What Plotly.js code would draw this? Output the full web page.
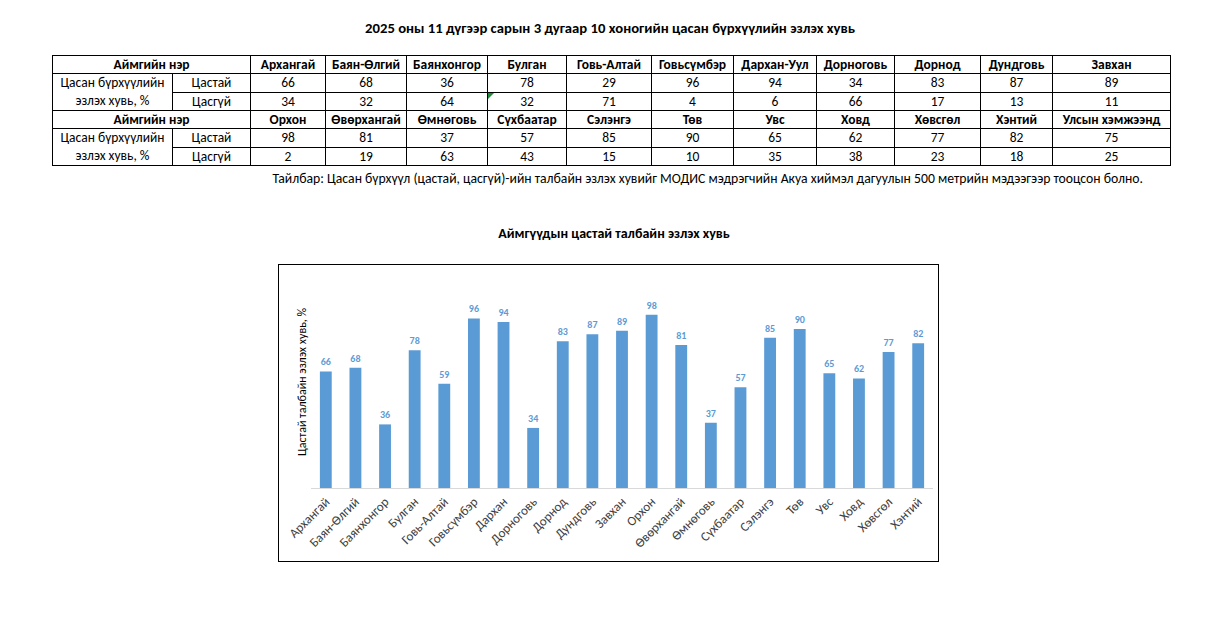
<!DOCTYPE html>
<html>
<head>
<meta charset="utf-8">
<script src="https://cdn.plot.ly/plotly-3.0.1.min.js"></script>
<style>
  html, body { margin:0; padding:0; background:#fff; width:1223px; height:633px; overflow:hidden; }
  body { position:relative; font-family: Carlito, "Liberation Sans Narrow", Roboto, "Noto Sans", sans-serif; color:#000; }
  #mainTitle { position:absolute; left:0; top:19px; width:1220px; text-align:center; font-weight:bold; font-size:14.7px; line-height:18px; }
  #tbl { position:absolute; left:52px; top:55px; border-collapse:collapse; table-layout:fixed; font-size:13.5px; }
  #tbl td { border:1px solid #000; height:17px; padding:0; text-align:center; line-height:17px; white-space:nowrap; overflow:hidden; position:relative; }
  #tbl td.hdr { font-weight:bold; }
  #tbl td.lbl { line-height:18px; }
  #note { position:absolute; right:80px; top:170px; font-size:13.7px; white-space:nowrap; }
  #chartBox { position:absolute; left:278px; top:264px; width:659px; height:296px; border:1px solid #000; pointer-events:none; }
  #chart { position:absolute; left:278px; top:215px; width:661px; height:347px; }
  .tri { position:absolute; left:0; top:0; width:0; height:0; border-top:6px solid #1e8c3a; border-right:6px solid transparent; }
</style>
</head>
<body>
<div id="mainTitle"></div>
<table id="tbl"></table>
<div id="note"></div>
<div id="chart"></div>
<div id="chartBox"></div>
<script>
// ---------- data ----------
const mainTitle = "2025 оны 11 дүгээр сарын 3 дугаар 10 хоногийн цасан бүрхүүлийн эзлэх хувь";
const headerLabel = "Аймгийн нэр";
const rowLabelTop = "Цасан бүрхүүлийн";
const rowLabelBottom = "эзлэх хувь, %";
const snowLabel = "Цастай";
const noSnowLabel = "Цасгүй";

const provinces1 = ["Архангай","Баян-Өлгий","Баянхонгор","Булган","Говь-Алтай","Говьсүмбэр","Дархан-Уул","Дорноговь","Дорнод","Дундговь","Завхан"];
const snow1      = [66, 68, 36, 78, 29, 96, 94, 34, 83, 87, 89];
const noSnow1    = [34, 32, 64, 32, 71, 4, 6, 66, 17, 13, 11];

const provinces2 = ["Орхон","Өвөрхангай","Өмнөговь","Сүхбаатар","Сэлэнгэ","Төв","Увс","Ховд","Хөвсгөл","Хэнтий","Улсын хэмжээнд"];
const snow2      = [98, 81, 37, 57, 85, 90, 65, 62, 77, 82, 75];
const noSnow2    = [2, 19, 63, 43, 15, 10, 35, 38, 23, 18, 25];

const noteText = "Тайлбар: Цасан бүрхүүл (цастай, цасгүй)-ийн талбайн эзлэх хувийг МОДИС мэдрэгчийн Акуа хиймэл дагуулын 500 метрийн мэдээгээр тооцсон болно.";

const chartTitle = "Аймгүүдын цастай талбайн эзлэх хувь";
const yAxisTitle = "Цастай талбайн эзлэх хувь, %";
const chartCategories = ["Архангай","Баян-Өлгий","Баянхонгор","Булган","Говь-Алтай","Говьсүмбэр","Дархан","Дорноговь","Дорнод","Дундговь","Завхан","Орхон","Өвөрхангай","Өмнөговь","Сүхбаатар","Сэлэнгэ","Төв","Увс","Ховд","Хөвсгөл","Хэнтий"];
const chartValues     = [66, 68, 36, 78, 59, 96, 94, 34, 83, 87, 89, 98, 81, 37, 57, 85, 90, 65, 62, 77, 82];

// ---------- layout constants (styles only) ----------
const colWidths = [120, 78, 75, 81, 81, 79, 85, 82, 83, 78, 86, 72, 118];

// ---------- title / note ----------
document.getElementById("mainTitle").textContent = mainTitle;
document.getElementById("note").textContent = noteText;

// ---------- table ----------
const tbl = document.getElementById("tbl");
const cg = document.createElement("colgroup");
colWidths.forEach(w => { const c = document.createElement("col"); c.style.width = w + "px"; cg.appendChild(c); });
tbl.appendChild(cg);
tbl.style.width = colWidths.reduce((a,b)=>a+b,0) + "px";

function addBlock(names, snow, noSnow, markCol) {
  const r1 = tbl.insertRow();
  let c = r1.insertCell(); c.colSpan = 2; c.className = "hdr"; c.textContent = headerLabel;
  names.forEach(n => { const d = r1.insertCell(); d.className = "hdr"; d.textContent = n; });
  const r2 = tbl.insertRow();
  c = r2.insertCell(); c.rowSpan = 2; c.className = "lbl"; c.innerHTML = rowLabelTop + "<br>" + rowLabelBottom;
  c = r2.insertCell(); c.textContent = snowLabel;
  snow.forEach(v => { const d = r2.insertCell(); d.textContent = v; });
  const r3 = tbl.insertRow();
  c = r3.insertCell(); c.textContent = noSnowLabel;
  noSnow.forEach((v, i) => {
    const d = r3.insertCell(); d.textContent = v;
    if (i === markCol) { const t = document.createElement("span"); t.className = "tri"; d.appendChild(t); }
  });
}
addBlock(provinces1, snow1, noSnow1, 3);
addBlock(provinces2, snow2, noSnow2, -1);

// ---------- chart ----------
const chartFont = "Carlito, 'Liberation Sans Narrow', Roboto, 'Noto Sans', sans-serif";
const trace = {
  type: "bar",
  x: chartCategories,
  y: chartValues,
  marker: { color: "#5B9BD5" },
  text: chartValues.map(String),
  textposition: "outside",
  textfont: { color: "#5B9BD5", size: 10, family: chartFont, weight: "bold" },
  cliponaxis: false,
  hoverinfo: "x+y"
};
const layout = {
  width: 661, height: 347,
  margin: { l: 33, r: 6, t: 61, b: 74, pad: 0 },
  paper_bgcolor: "rgba(0,0,0,0)",
  plot_bgcolor: "rgba(0,0,0,0)",
  font: { family: chartFont, color: "#595959" },
  title: { text: chartTitle, font: { size: 14, color: "#000", family: chartFont, weight: "bold" },
           x: (614 - 278) / 661, xanchor: "center", y: (562 - 233) / 347, yanchor: "middle", yref: "container", xref: "container" },
  bargap: 0.6,
  showlegend: false,
  xaxis: { type: "category", tickangle: -45, tickfont: { size: 13, color: "#404040" },
           showline: true, linecolor: "#D9D9D9", linewidth: 1, ticks: "", showgrid: false, zeroline: false, automargin: false },
  yaxis: { range: [0, 120], showticklabels: false, showgrid: false, zeroline: false, showline: false, ticks: "", automargin: false },
  annotations: [{
    text: yAxisTitle, xref: "paper", yref: "paper", x: -0.0145, y: 0.5, xanchor: "center", yanchor: "middle",
    textangle: -90, showarrow: false, font: { size: 12, color: "#000", family: chartFont }
  }]
};
Plotly.newPlot("chart", [trace], layout, { displayModeBar: false, staticPlot: true });
</script>
</body>
</html>
